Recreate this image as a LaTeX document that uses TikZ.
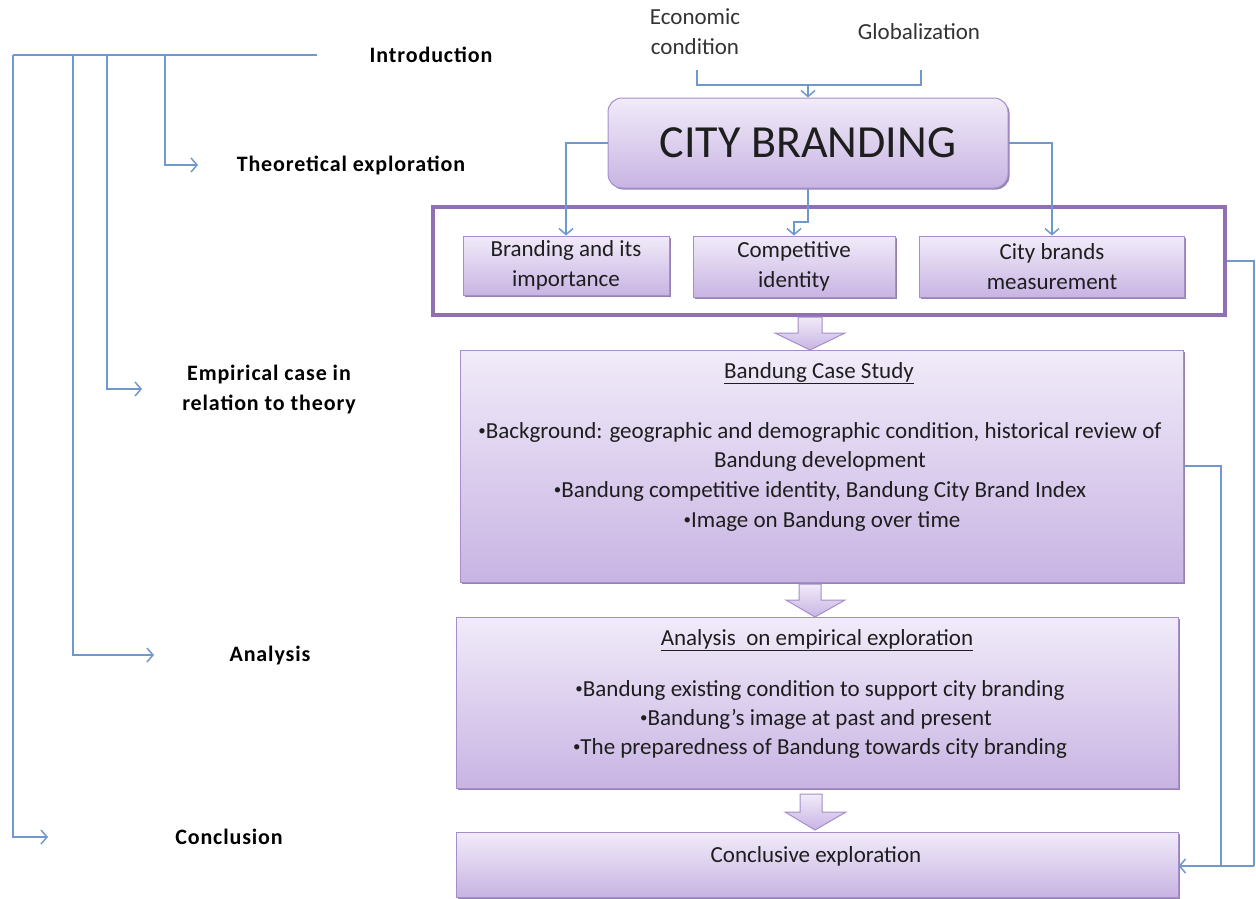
\documentclass[tikz,border=0pt]{standalone}
\usepackage{fontspec}
\setmainfont{Carlito}
\newfontfamily\lblfont[LetterSpace=4]{Carlito}
\usetikzlibrary{arrows.meta,shadows,calc}
\definecolor{lnc}{HTML}{6F98CC}
\definecolor{btop}{HTML}{F1EBF9}
\definecolor{bbot}{HTML}{C8B4E3}
\definecolor{bdr}{HTML}{A58ECA}
\definecolor{shc}{HTML}{8C74AC}
\definecolor{outc}{HTML}{9070B2}
\definecolor{txtc}{HTML}{1E1E1E}
\definecolor{grc}{HTML}{333333}
\newcommand\bul{\raisebox{0.22ex}{\scalebox{0.65}{•}}}
\begin{document}
\begin{tikzpicture}[x=1pt,y=-1pt,
  conn/.style={draw=lnc, line width=2pt},
  arr/.style={conn, -{Straight Barb[length=6pt,width=14pt,line width=1.5pt]}},
  box/.style={draw=bdr, line width=1pt, top color=btop, bottom color=bbot,
    drop shadow={shadow xshift=1.6pt,shadow yshift=-1.6pt,fill=shc,opacity=.9},
    inner sep=0pt},
  txt/.style={font=\fontsize{23}{30}\selectfont, text=txtc, align=center, inner sep=0pt},
  lbl/.style={font=\lblfont\fontsize{22}{30}\selectfont\bfseries, text=black, align=center, inner sep=0pt},
  blk/.style={draw=bdr, line width=1pt, top color=btop, bottom color=bbot}
]
\useasboundingbox (0,0) rectangle (1256,898);

% ---- left labels
\node[lbl] (intro) at (431,55) {Introduction};
\node[lbl] (theo) at (351,165) {Theoretical exploration};
\node[lbl] (emp) at (269,390) {Empirical case in\\relation to theory};
\node[lbl] (ana) at (270,655) {Analysis};
\node[lbl] (conc) at (229,837) {Conclusion};

\coordinate (introend) at (317,55);
\coordinate (theoend) at (198,165);
\coordinate (empend) at (142,389);
\coordinate (anaend) at (154,655);
\coordinate (concend) at (48,837);

\draw[conn] (introend) -- (13,55);
\draw[arr] (13,55) |- (concend);
\draw[arr] (73,55) |- (anaend);
\draw[arr] (107,55) |- (empend);
\draw[arr] (165,55) |- (theoend);

% ---- top inputs
\node[txt, text=grc] (eco) at (695,32) {Economic\\condition};
\node[txt, text=grc] (glob) at (919,32) {Globalization};

% ---- outer frame
\node[draw=outc, line width=4pt, fill=white, minimum width=792pt, minimum height=108pt, inner sep=0pt] (outer) at (829,261) {};

% ---- city branding
\node[box, rounded corners=14pt, minimum width=400pt, minimum height=90pt,
      font=\fontsize{46}{50}\selectfont, text=txtc] (city) at (808,143) {CITY BRANDING};

\coordinate (ecoj) at (697,85);
\draw[conn] (697,70) -- (ecoj) -- (921,85) -- (921,70);
\draw[arr] (city.north |- ecoj) -- (city.north);

% ---- three sub boxes
\node[box, minimum width=206pt, minimum height=59pt, txt] (b1) at (566,265.5) {Branding and its\\importance};
\node[box, minimum width=202pt, minimum height=61pt, txt] (b2) at (794,266.5) {Competitive\\identity};
\node[box, minimum width=265pt, minimum height=61pt, txt] (b3) at (1052,266.5) {City brands\\measurement};

\draw[arr] (city.west) -| (b1.north);
\draw[arr] (city.east) -| (b3.north);
\draw[arr] (city.south) -- (city.south |- 0,222) -- (b2.north |- 0,222) -- (b2.north);

% ---- case study
\node[box, minimum width=723pt, minimum height=232pt] (case) at (821.5,466) {};
\node[txt] (caset) at (819,373) {\underline{Bandung Case Study}};
\node[txt] (case1) at (820,432) {\bul Background: geographic and demographic condition, historical review of};
\node[txt] (case2) at (820,461) {Bandung development};
\node[txt] (case3) at (820,491) {\bul Bandung competitive identity, Bandung City Brand Index};
\node[txt] (case4) at (822,521) {\bul Image on Bandung over time};

% ---- analysis
\node[box, minimum width=722pt, minimum height=171pt] (anal) at (817,702.5) {};
\node[txt] (analt) at (817,640) {\underline{Analysis \ on empirical exploration}};
\node[txt] (anal1) at (820,690) {\bul Bandung existing condition to support city branding};
\node[txt] (anal2) at (816,719) {\bul Bandung’s image at past and present};
\node[txt] (anal3) at (820,748) {\bul The preparedness of Bandung towards city branding};

% ---- conclusive
\node[box, minimum width=722pt, minimum height=65pt] (concl) at (817,864.5) {};
\node[txt] (conclt) at (816,856) {Conclusive exploration};

% ---- block arrows
\draw[blk] (798,317) -- (822,317) -- (822,333) -- (845,333) -- (810,350) -- (775,333) -- (798,333) -- cycle;
\draw[blk] (799,584) -- (821,584) -- (821,600) -- (845,600) -- (815,617) -- (786,600) -- (799,600) -- cycle;
\draw[blk] (800,794) -- (822,794) -- (822,812) -- (846,812) -- (815,830) -- (785,812) -- (800,812) -- cycle;

% ---- right feedback lines
\coordinate (rj) at (1254,866);
\draw[conn] (outer.east) -- (1254,261) -- (rj);
\draw[conn] (case.east) -- (1221,466) -- (1221,866);
\draw[arr] (rj) -- (concl.east |- rj);
\end{tikzpicture}
\end{document}
